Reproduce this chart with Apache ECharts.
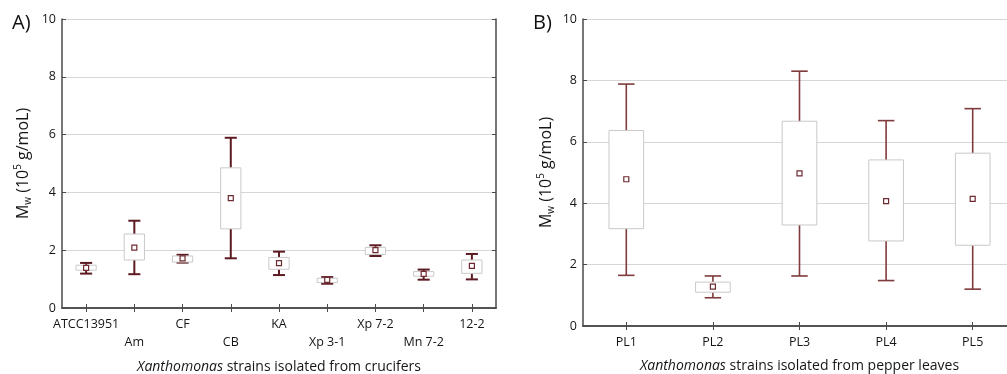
<!DOCTYPE html>
<html>
<head>
<meta charset="utf-8">
<script src="https://cdn.jsdelivr.net/npm/echarts@6/dist/echarts.min.js"></script>
<style>html,body{margin:0;padding:0;background:#fff}#c{width:1007px;height:374px}</style>
</head>
<body>
<div id="c"></div>
<script>
// Panel A: strains from crucifers (values in 10^5 g/moL)
const catsA = ['ATCC13951','Am','CF','CB','KA','Xp 3-1','Xp 7-2','Mn 7-2','12-2'];
const whiskLowA  = [1.19, 1.17, 1.57, 1.72, 1.14, 0.84, 1.80, 0.98, 0.99];
const boxLowA    = [1.31, 1.66, 1.59, 2.74, 1.34, 0.88, 1.85, 1.10, 1.20];
const meanA      = [1.39, 2.09, 1.72, 3.80, 1.55, 0.97, 2.00, 1.18, 1.46];
const boxHighA   = [1.48, 2.56, 1.80, 4.85, 1.75, 1.03, 2.10, 1.26, 1.66];
const whiskHighA = [1.56, 3.02, 1.84, 5.89, 1.95, 1.07, 2.17, 1.33, 1.87];

// Panel B: strains from pepper leaves
const catsB = ['PL1','PL2','PL3','PL4','PL5'];
const whiskLowB  = [1.65, 0.92, 1.63, 1.48, 1.20];
const boxLowB    = [3.17, 1.10, 3.29, 2.77, 2.63];
const meanB      = [4.78, 1.28, 4.97, 4.07, 4.14];
const boxHighB   = [6.37, 1.43, 6.67, 5.41, 5.63];
const whiskHighB = [7.88, 1.63, 8.30, 6.69, 7.08];

const yTicks = [0, 2, 4, 6, 8, 10];

const FONT = 'Open Sans';
const AXC = '#4a4a4a';
const TXT = '#151515';

function rows(cats, wl, bl, m, bh, wh) {
  return cats.map((c, i) => [i, wl[i], bl[i], m[i], bh[i], wh[i]]);
}

function makeRender(boxRatio, capRatio, whiskColor, whiskWidth) {
  return function (params, api) {
    const x = api.value(0);
    const pWL = api.coord([x, api.value(1)]);
    const pBL = api.coord([x, api.value(2)]);
    const pM  = api.coord([x, api.value(3)]);
    const pBH = api.coord([x, api.value(4)]);
    const pWH = api.coord([x, api.value(5)]);
    const band = api.size([1, 0])[0];
    const bw = band * boxRatio;
    const cw = band * capRatio;
    const cx = pM[0];
    const ws = {stroke: whiskColor, lineWidth: whiskWidth};
    return {
      type: 'group',
      children: [
        {type: 'line', shape: {x1: cx, y1: pBH[1], x2: cx, y2: pWH[1]}, style: ws},
        {type: 'line', shape: {x1: cx, y1: pBL[1], x2: cx, y2: pWL[1]}, style: ws},
        {type: 'line', shape: {x1: cx - cw / 2, y1: pWH[1], x2: cx + cw / 2, y2: pWH[1]}, style: ws},
        {type: 'line', shape: {x1: cx - cw / 2, y1: pWL[1], x2: cx + cw / 2, y2: pWL[1]}, style: ws},
        {type: 'rect', shape: {x: cx - bw / 2, y: pBH[1], width: bw, height: pBL[1] - pBH[1]},
          style: {fill: '#fff', stroke: '#c9c9c9', lineWidth: 1}},
        {type: 'rect', shape: {x: cx - 2.5, y: pM[1] - 2.5, width: 5, height: 5},
          style: {fill: '#fff', stroke: '#6e2a30', lineWidth: 1.2}}
      ]
    };
  };
}

const yNameRich = {
  b: {fontSize: 16, fontFamily: FONT, color: TXT, verticalAlign: 'middle', lineHeight: 20},
  sub: {fontSize: 10, fontFamily: FONT, color: TXT, verticalAlign: 'bottom', lineHeight: 20},
  sup: {fontSize: 10, fontFamily: FONT, color: TXT, verticalAlign: 'top', lineHeight: 20}
};
const xNameRich = {
  i: {fontSize: 14, fontFamily: FONT, fontStyle: 'italic', color: TXT},
  n: {fontSize: 14, fontFamily: FONT, color: TXT}
};

function valueAxis(gi, isMain, nameGap) {
  const a = {
    type: 'value', gridIndex: gi, min: 0, max: 10, interval: 2,
    position: isMain ? 'left' : 'right',
    axisLine: {show: true, lineStyle: {color: AXC, width: 1.5}},
    axisTick: {show: true, inside: true, length: 4, lineStyle: {color: AXC}},
    splitLine: {show: isMain, lineStyle: {color: '#d6d6d6', width: 1}},
    axisLabel: {show: isMain, color: TXT, fontSize: 12.5, fontFamily: FONT, margin: 6,
      formatter: v => yTicks.includes(v) ? String(v) : ''}
  };
  if (isMain) {
    a.name = '{b|M}{sub|w}{b| (10}{sup|5}{b| g/moL)}';
    a.nameLocation = 'middle';
    a.nameGap = nameGap;
    a.nameTextStyle = {rich: yNameRich};
  }
  return a;
}

function catAxis(gi, cats, isMain, alternate, nameTxt, nameGap) {
  const a = {
    type: 'category', gridIndex: gi, data: cats,
    position: isMain ? 'bottom' : 'top',
    axisLine: {show: true, lineStyle: {color: AXC, width: 1.5}},
    axisTick: {show: true, inside: true, length: 4, alignWithLabel: true, lineStyle: {color: AXC}},
    splitLine: {show: false},
    axisLabel: {show: isMain, interval: 0, color: TXT, fontSize: 12.5, fontFamily: FONT,
      margin: 7, lineHeight: 18,
      formatter: (v, i) => (alternate && i % 2 === 1) ? '\n' + v : v}
  };
  if (isMain) {
    a.name = nameTxt;
    a.nameLocation = 'middle';
    a.nameGap = nameGap;
    a.nameTextStyle = {rich: xNameRich};
  }
  return a;
}

const chart = echarts.init(document.getElementById('c'), null, {renderer: 'canvas'});
chart.setOption({
  animation: false,
  backgroundColor: '#fff',
  grid: [
    {left: 62, top: 19, width: 434, height: 289, containLabel: false, outerBoundsMode: 'none'},
    {left: 583, top: 19, width: 433, height: 307, containLabel: false, outerBoundsMode: 'none'}
  ],
  xAxis: [
    catAxis(0, catsA, true, true, '{i|Xanthomonas}{n| strains isolated from crucifers}', 52),
    catAxis(0, catsA, false, false),
    catAxis(1, catsB, true, false, '{i|Xanthomonas}{n| strains isolated from pepper leaves}', 33),
    catAxis(1, catsB, false, false)
  ],
  yAxis: [
    valueAxis(0, true, 29),
    valueAxis(0, false),
    valueAxis(1, true, 27),
    valueAxis(1, false)
  ],
  graphic: [
    {type: 'text', left: 12, top: 13, style: {text: 'A)', font: '20px "Open Sans"', fill: '#111'}},
    {type: 'text', left: 533, top: 13, style: {text: 'B)', font: '20px "Open Sans"', fill: '#111'}}
  ],
  series: [
    {type: 'custom', xAxisIndex: 0, yAxisIndex: 0,
      renderItem: makeRender(0.42, 0.25, '#5e1a22', 2),
      encode: {x: 0, y: [1, 2, 3, 4, 5]},
      data: rows(catsA, whiskLowA, boxLowA, meanA, boxHighA, whiskHighA)},
    {type: 'custom', xAxisIndex: 2, yAxisIndex: 2,
      renderItem: makeRender(0.40, 0.19, '#7f3a3c', 1.6),
      encode: {x: 0, y: [1, 2, 3, 4, 5]},
      data: rows(catsB, whiskLowB, boxLowB, meanB, boxHighB, whiskHighB)}
  ]
});
</script>
</body>
</html>
